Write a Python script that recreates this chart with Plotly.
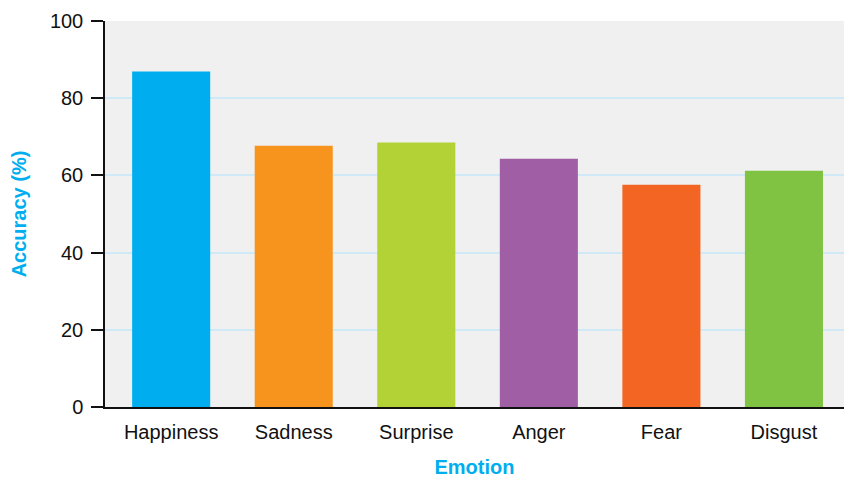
import plotly.graph_objects as go

# Recognition accuracy by emotion category
emotions = ["Happiness", "Sadness", "Surprise", "Anger", "Fear", "Disgust"]
accuracy = [86.9, 67.7, 68.5, 64.3, 57.6, 61.2]
bar_colors = ["#00AEEF", "#F7941E", "#B2D235", "#A05EA5", "#F26522", "#80C242"]
y_ticks = [0, 20, 40, 60, 80, 100]

FONT = "Liberation Sans Narrow, Arial Narrow, Liberation Sans, Arial, sans-serif"
ACCENT = "#00AEEF"

fig = go.Figure(
    go.Bar(
        x=emotions,
        y=accuracy,
        marker=dict(color=bar_colors, line=dict(width=0)),
        width=0.637,
    )
)

fig.update_layout(
    width=844,
    height=478,
    margin=dict(l=105, r=0, t=21, b=71),
    paper_bgcolor="white",
    plot_bgcolor="#F0F0F0",
    showlegend=False,
    font=dict(family=FONT, size=20, color="#111111"),
)

fig.update_xaxes(
    range=[-0.54, 5.49],
    showgrid=False,
    showline=True,
    linecolor="#111111",
    linewidth=1.5,
    ticks="",
    tickfont=dict(family=FONT, size=20, color="#111111"),
    ticklabelstandoff=6,
    title=dict(text="<b>Emotion</b>", font=dict(family=FONT, size=20, color=ACCENT), standoff=18),
)

fig.update_yaxes(
    range=[0, 100],
    tickvals=y_ticks,
    showgrid=True,
    gridcolor="#CFE9F7",
    gridwidth=2,
    zeroline=False,
    showline=True,
    linecolor="#111111",
    linewidth=1.5,
    ticks="outside",
    ticklen=12,
    tickwidth=1.5,
    tickcolor="#111111",
    tickfont=dict(family=FONT, size=20, color="#111111"),
    ticklabelstandoff=4,
    title=dict(text="<b>Accuracy (%)</b>", font=dict(family=FONT, size=20, color=ACCENT), standoff=18),
)

fig.write_html("out.html")
